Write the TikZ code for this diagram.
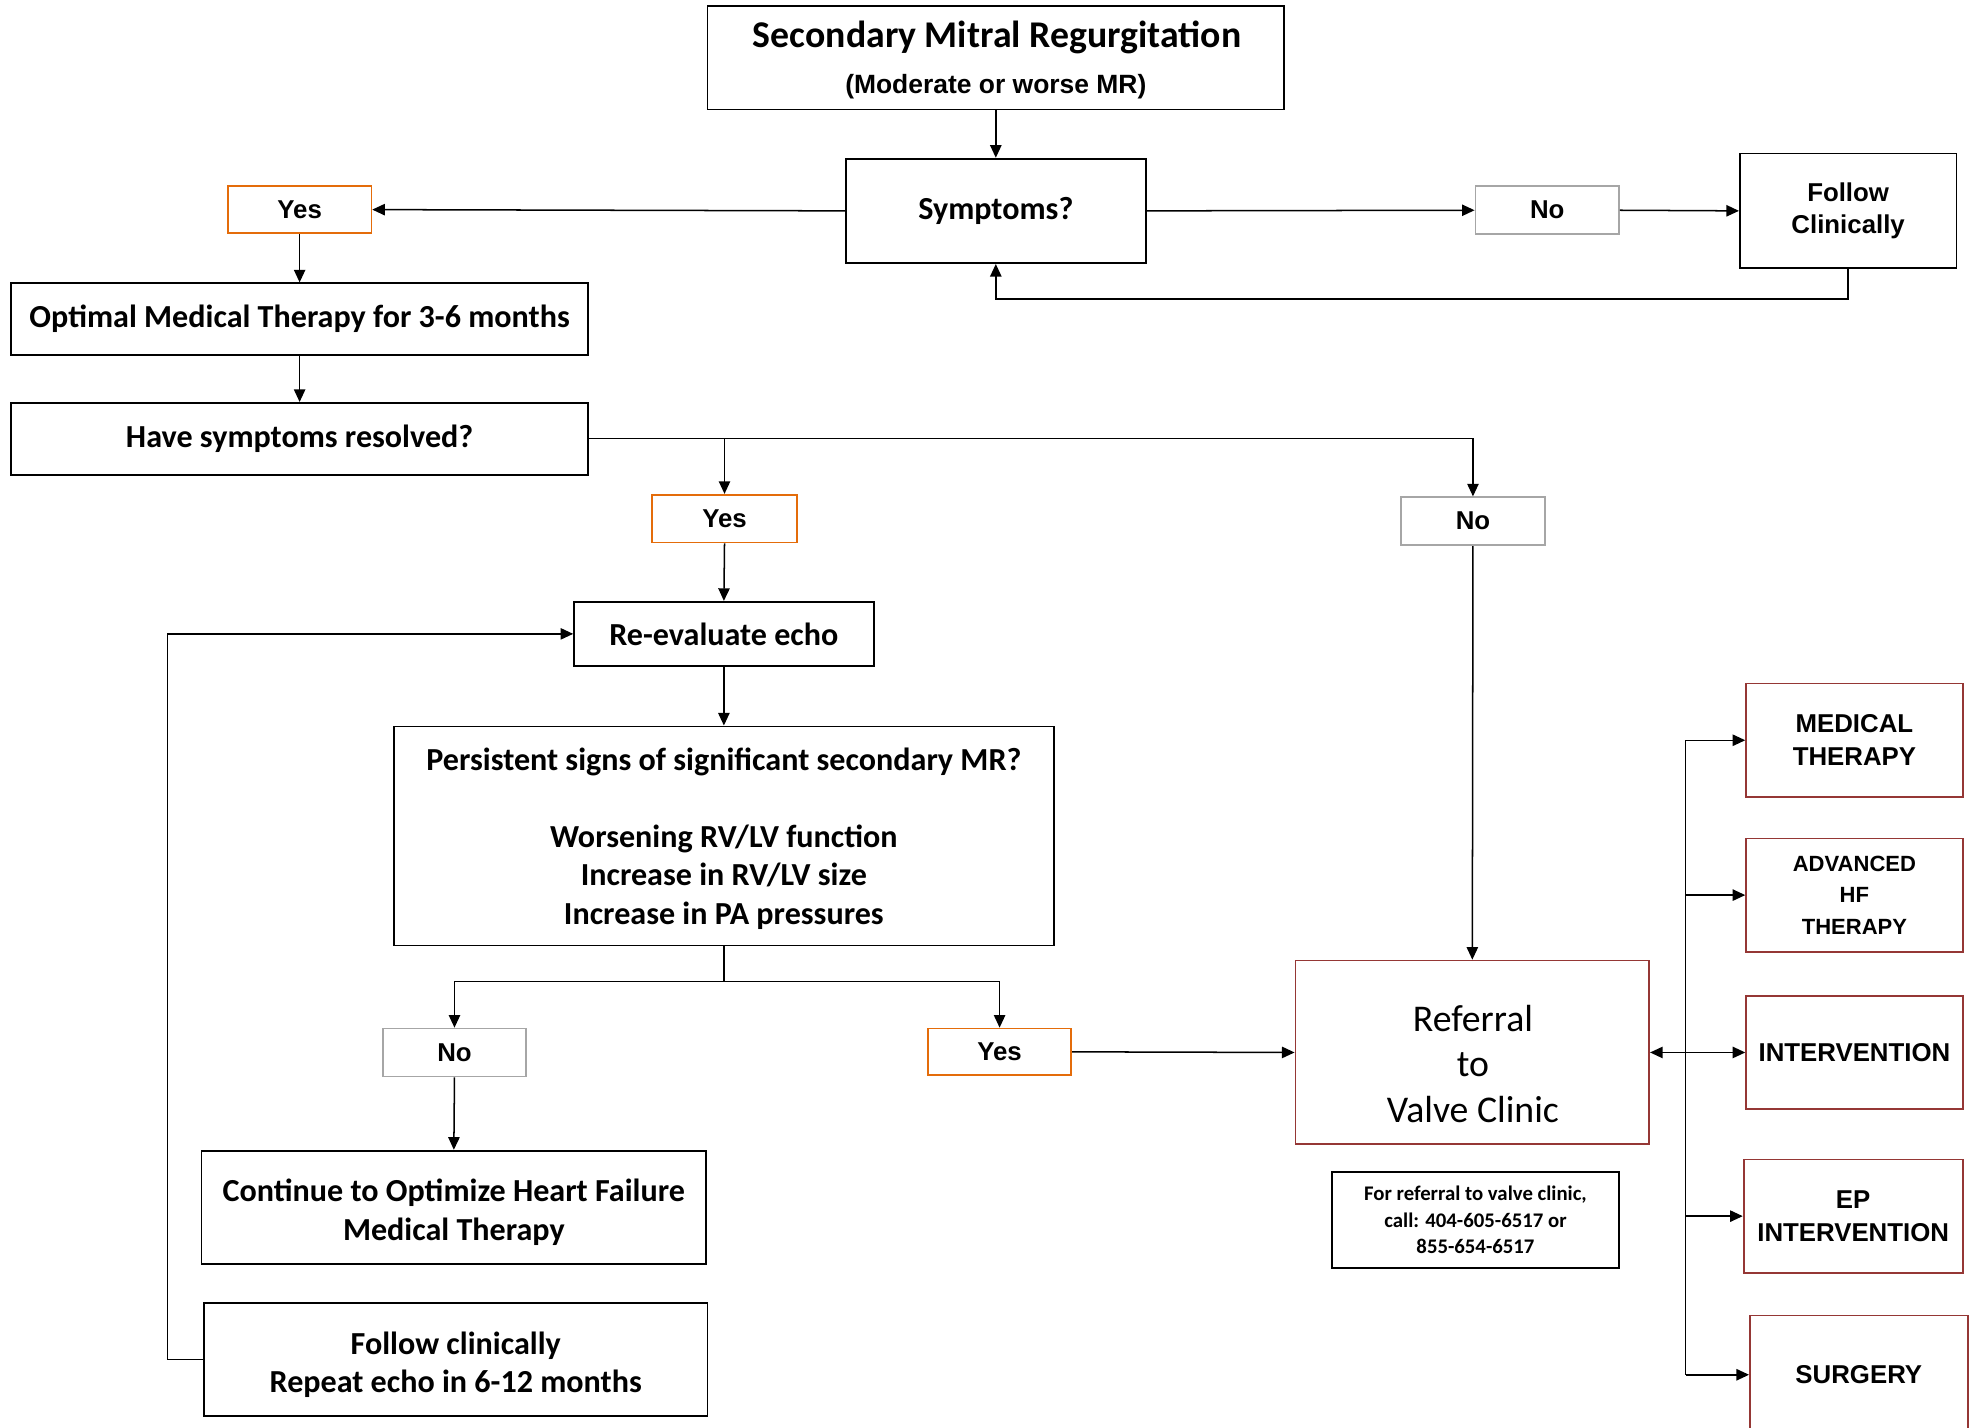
\documentclass[tikz,border=0pt]{standalone}
\usepackage{fontspec}
\setmainfont{Carlito}
\newfontfamily\arialf{Liberation Sans}
\usetikzlibrary{arrows.meta}
\definecolor{orng}{RGB}{228,108,10}
\definecolor{grayb}{RGB}{166,166,166}
\definecolor{dred}{RGB}{149,55,53}
\begin{document}
\begin{tikzpicture}[x=1pt,y=-1pt,
  box/.style={draw=black, line width=1.4pt, inner sep=0pt, align=center,
    font=\bfseries\fontsize{25.5}{30.5}\selectfont},
  abox/.style={box, font=\arialf\bfseries\fontsize{20.5}{26}\selectfont},
  yesbox/.style={abox, draw=orng, minimum width=114pt, minimum height=37pt},
  nobox/.style={abox, draw=grayb, minimum width=114pt, minimum height=38pt},
  redbox/.style={abox, draw=dred, minimum width=172pt, minimum height=90pt},
  txt/.style={inner sep=0pt, align=center},
  arr/.style={draw=black, line width=1.2pt, -{Triangle[length=10pt,width=9pt]}},
  arr2/.style={draw=black, line width=1.2pt, {Triangle[length=10pt,width=9pt]}-{Triangle[length=10pt,width=9pt]}},
  ln/.style={draw=black, line width=1.2pt}]
\useasboundingbox (0,0) rectangle (1568,1134);
\fill[white] (0,0) rectangle (1568,1134);

% top
\node[box, minimum width=458pt, minimum height=82pt] (title) at (791,46) {};
\node[txt, font=\bfseries\fontsize{30}{36}\selectfont] (titleA) at (792,30) {Secondary Mitral Regurgitation};
\node[txt, font=\arialf\bfseries\fontsize{21}{24}\selectfont] (titleB) at (791,69) {(Moderate or worse MR)};
\node[box, minimum width=238pt, minimum height=83pt] (symp) at (791,167.5) {Symptoms?};
\node[yesbox] (yesA) at (238,166.5) {Yes};
\node[nobox] (noA) at (1229,167) {No};
\node[abox, minimum width=172pt, minimum height=91pt] (follow) at (1468,167.5) {Follow\\Clinically};

% left column
\node[box, minimum width=458pt, minimum height=57pt] (opt) at (238,253.5) {Optimal Medical Therapy for 3-6 months};
\node[box, minimum width=458pt, minimum height=57pt] (have) at (238,348.5) {Have symptoms resolved?};
\node[yesbox, minimum width=115pt, minimum height=38pt] (yesB) at (575.5,412) {Yes};
\node[nobox] (noB) at (1170,414) {No};
\node[box, minimum width=238pt, minimum height=51pt] (reev) at (575,503.5) {Re-evaluate echo};
\node[box, minimum width=524pt, minimum height=174pt] (pers) at (575,664) {};
\node[txt, font=\bfseries\fontsize{25.5}{30.5}\selectfont] (persT) at (575,666)
  {Persistent signs of significant secondary MR?\\[30.5pt]
   Worsening RV/LV function\\Increase in RV/LV size\\Increase in PA pressures};
\node[nobox] (noC) at (361,836) {No};
\node[yesbox] (yesC) at (794,835.5) {Yes};
\node[box, minimum width=401pt, minimum height=90pt] (cont) at (360.5,959) {};
\node[txt, font=\bfseries\fontsize{25.5}{30.5}\selectfont] (contT) at (360.5,963)
  {Continue to Optimize Heart Failure\\Medical Therapy};
\node[box, minimum width=400pt, minimum height=90pt] (fclin) at (362,1080) {};
\node[txt, font=\bfseries\fontsize{25.5}{30.5}\selectfont] (fclinT) at (362,1084)
  {Follow clinically\\Repeat echo in 6-12 months};

% referral
\node[box, draw=dred, minimum width=281pt, minimum height=146pt] (ref) at (1169.5,836) {};
\node[txt, font=\fontsize{30}{36}\selectfont] (refT) at (1170,845) {Referral\\to\\Valve Clinic};
\node[box, minimum width=228pt, minimum height=76pt,
  font=\bfseries\fontsize{16.5}{21}\selectfont] (phone) at (1172,969)
  {For referral to valve clinic,\\call: 404-605-6517 or\\855-654-6517};

% right column
\node[redbox] (med) at (1473,588) {MEDICAL\\THERAPY};
\node[redbox, font=\arialf\bfseries\fontsize{17.5}{25}\selectfont] (adv) at (1473,711) {ADVANCED\\HF\\THERAPY};
\node[redbox] (intv) at (1473,836) {INTERVENTION};
\node[redbox, minimum width=174pt] (ep) at (1472,966) {EP\\INTERVENTION};
\node[redbox, minimum width=173pt, minimum height=94pt] (surg) at (1476.5,1092) {SURGERY};

\coordinate (busx) at (1339,0);
\coordinate (loopx) at (133,0);

% connectors
\draw[arr] (title.south) -- (symp.north);
\draw[arr] (symp.west) -- (yesA.east);
\draw[arr] (symp.east) -- (noA.west);
\draw[arr] (noA.east) -- (follow.west);
\draw[arr] (follow.south) -- ++(0,24) -| (symp.south);
\draw[arr] (yesA.south) -- (opt.north);
\draw[arr] (opt.south) -- (have.north);
\draw[arr] (have.east) -| (noB.north);
\coordinate (brB) at (yesB.north |- have.east);
\draw[arr] (brB) -- (yesB.north);
\draw[arr] (yesB.south) -- (reev.north);
\draw[arr] (reev.south) -- (pers.north);
\draw[ln] (pers.south) -- ++(0,28) coordinate (brC);
\draw[arr] (brC) -| (noC.north);
\draw[arr] (brC) -| (yesC.north);
\draw[arr] (noC.south) -- (cont.north);
\draw[arr] (fclin.west) -- (fclin.west -| loopx) |- (reev.west);
\draw[arr] (yesC.east) -- (ref.west);
\draw[arr] (noB.south) -- (ref.north);
\draw[ln] (med.west -| busx) -- (surg.west -| busx);
\draw[arr2] (ref.east) -- (intv.west);
\draw[arr] (med.west -| busx) -- (med.west);
\draw[arr] (adv.west -| busx) -- (adv.west);
\draw[arr] (ep.west -| busx) -- (ep.west);
\draw[arr] (surg.west -| busx) -- (surg.west);
\end{tikzpicture}
\end{document}
